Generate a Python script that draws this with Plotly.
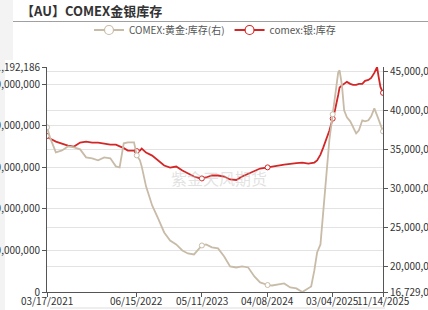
import plotly.graph_objects as go

dates = ["2021-03-17","2021-04-01","2021-05-01","2021-06-01","2021-07-01","2021-08-01","2021-09-01",
         "2021-10-01","2021-11-01","2021-12-01","2022-01-01","2022-02-01","2022-03-01","2022-03-20",
         "2022-04-10","2022-05-01","2022-06-01","2022-06-15","2022-07-01","2022-07-10","2022-08-01",
         "2022-09-01","2022-10-01","2022-11-01","2022-12-01","2023-01-01","2023-02-01","2023-03-01",
         "2023-04-01","2023-05-01","2023-05-11","2023-06-01","2023-07-01","2023-08-01","2023-09-01",
         "2023-10-01","2023-11-01","2023-12-01","2024-01-01","2024-02-01","2024-03-01","2024-04-01",
         "2024-04-08","2024-05-01","2024-06-01","2024-07-01","2024-08-01","2024-09-01","2024-10-01",
         "2024-11-01","2024-11-15","2024-12-01","2024-12-15","2025-01-01","2025-01-15","2025-02-01",
         "2025-02-15","2025-03-04","2025-03-15","2025-04-01","2025-04-08","2025-04-20","2025-05-01",
         "2025-05-15","2025-06-01","2025-06-15","2025-07-01","2025-07-15","2025-08-01","2025-08-15",
         "2025-09-01","2025-09-15","2025-10-01","2025-10-15","2025-10-22","2025-11-01","2025-11-14"]

# COMEX gold inventory (million oz, right axis)
gold_m = [37.82,36.54,34.62,34.87,35.38,35.26,35.00,33.97,33.85,33.59,33.97,33.85,32.82,32.69,
          35.77,35.90,35.90,34.23,33.59,32.82,30.26,27.82,26.15,24.36,23.33,22.82,22.05,21.67,
          21.54,22.31,22.69,22.82,22.44,22.31,21.28,20.00,19.87,20.00,19.87,18.72,17.95,17.69,
          17.62,17.56,17.69,17.82,17.31,17.18,16.729046,17.18,17.44,19.49,21.79,22.82,27.18,32.31,
          36.15,39.49,41.67,44.87,45.13,43.20,40.00,39.10,38.59,37.82,37.05,37.44,38.72,38.59,
          38.72,39.23,40.26,39.36,38.90,38.20,37.31]

# COMEX silver inventory (million oz, left axis)
silver_m = [375.2,369.0,361.7,356.9,352.1,349.7,359.3,361.7,359.3,359.3,356.9,354.5,354.5,351.0,
            346.0,340.1,340.1,338.9,340.1,344.9,335.3,328.1,316.2,304.2,299.4,301.8,292.2,285.0,
            277.8,273.1,273.1,275.4,280.2,280.2,277.8,270.7,269.5,277.8,285.0,292.2,297.0,299.4,
            299.8,301.8,304.2,306.6,309.0,310.2,311.4,309.0,310.2,311.4,316.6,330.5,347.3,368.9,
            388.0,417.0,436.0,474.0,492.0,497.0,500.6,505.4,500.6,498.2,498.2,500.6,500.6,507.8,
            510.2,515.0,527.0,541.192186,520.0,493.4,479.0]

tick_dates = ["2021-03-17","2022-06-15","2023-05-11","2024-04-08","2025-03-04","2025-11-14"]
tick_text = ["03/17/2021","06/15/2022","05/11/2023","04/08/2024","03/04/2025","11/14/2025"]

left_ticks = [0, 100000000, 200000000, 300000000, 400000000, 500000000, 541192186]
right_ticks = [16729046, 20000000, 25000000, 30000000, 35000000, 40000000, 45000000]

gold = [v * 1e6 for v in gold_m]
silver = [v * 1e6 for v in silver_m]

GOLD_C = "rgb(200,187,168)"
RED_C = "rgb(212,38,38)"
FONT = "Noto Sans CJK SC"

W, H = 428, 310
L, R, T, B = 47, 45, 67, 18
PW, PH = W - L - R, H - T - B

def px(x):
    return (x - L) / PW

def py(y):
    return (H - B - y) / PH

mark_idx = [dates.index(d) for d in tick_dates]

fig = go.Figure()
fig.add_trace(go.Scatter(x=dates, y=gold, mode="lines", yaxis="y2",
                         line=dict(color=GOLD_C, width=1.8), showlegend=False, hoverinfo="skip"))
fig.add_trace(go.Scatter(x=[dates[i] for i in mark_idx], y=[gold[i] for i in mark_idx], mode="markers",
                         yaxis="y2", marker=dict(symbol="circle", size=5, color="white",
                                                 line=dict(color=GOLD_C, width=1)),
                         showlegend=False, hoverinfo="skip"))
fig.add_trace(go.Scatter(x=dates, y=silver, mode="lines",
                         line=dict(color=RED_C, width=1.8), showlegend=False, hoverinfo="skip"))
fig.add_trace(go.Scatter(x=[dates[i] for i in mark_idx], y=[silver[i] for i in mark_idx], mode="markers",
                         marker=dict(symbol="circle", size=5, color="white",
                                     line=dict(color=RED_C, width=1)),
                         showlegend=False, hoverinfo="skip"))
fig.add_trace(go.Scatter(x=[None], y=[None], mode="lines+markers", name="COMEX:黄金:库存(右)",
                         line=dict(color=GOLD_C, width=1.8),
                         marker=dict(symbol="circle", size=9, color="white", line=dict(color=GOLD_C, width=1.2))))
fig.add_trace(go.Scatter(x=[None], y=[None], mode="lines+markers", name="comex:银:库存",
                         line=dict(color=RED_C, width=1.8),
                         marker=dict(symbol="circle", size=9, color="white", line=dict(color=RED_C, width=1.2))))

axis_col = "#555555"
grid_col = "#e3e3e3"
tick_font = dict(family=FONT, size=10, color="#333333")

annotations = [
    dict(text="<b>【AU】COMEX金银库存</b>", xref="paper", yref="paper", x=px(19), y=py(11),
         xanchor="left", yanchor="middle", showarrow=False,
         font=dict(family=FONT, size=13, color="#333333")),
    dict(text="紫金天风期货", xref="paper", yref="paper", x=px(219), y=py(178),
         xanchor="center", yanchor="middle", showarrow=False,
         font=dict(family=FONT, size=16, color="rgba(190,190,190,0.45)")),
]
for d, t in zip(tick_dates, tick_text):
    annotations.append(dict(text=t, xref="x", yref="paper", x=d, y=py(300.5),
                            xanchor="center", yanchor="middle", showarrow=False,
                            font=tick_font))

fig.update_layout(
    width=W, height=H,
    margin=dict(l=L, r=R, t=T, b=B, pad=0),
    paper_bgcolor="white", plot_bgcolor="white",
    font=dict(family=FONT, size=10, color="#333333"),
    showlegend=True,
    legend=dict(orientation="h", x=0.5, xanchor="center", y=py(30), yanchor="middle",
                font=dict(family=FONT, size=10, color="#555555"),
                bgcolor="rgba(0,0,0,0)", itemwidth=30, tracegroupgap=0),
    xaxis=dict(type="date", range=["2021-03-17", "2025-11-14"], tickvals=tick_dates,
               showticklabels=False,
               showgrid=False, showline=True, linecolor=axis_col, linewidth=1,
               ticks="outside", ticklen=4, tickcolor=axis_col,
               zeroline=False, automargin=False, fixedrange=True),
    yaxis=dict(range=[0, 541192186], tickvals=left_ticks,
               ticktext=[f"{v:,}" for v in left_ticks],
               showgrid=True, gridcolor=grid_col, gridwidth=1,
               showline=True, linecolor=axis_col, linewidth=1,
               ticks="outside", ticklen=4, tickcolor=axis_col, tickfont=tick_font,
               zeroline=False, automargin=False, fixedrange=True),
    yaxis2=dict(range=[16729046, 45550000], overlaying="y", side="right",
                tickvals=right_ticks, ticktext=[f"{v:,}" for v in right_ticks],
                showgrid=True, gridcolor=grid_col, gridwidth=1,
                showline=True, linecolor=axis_col, linewidth=1,
                ticks="outside", ticklen=4, tickcolor=axis_col, tickfont=tick_font,
                zeroline=False, automargin=False, fixedrange=True),
    shapes=[
        dict(type="rect", xref="paper", yref="paper", x0=px(0), x1=px(13), y0=py(0), y1=py(60),
             fillcolor="#f3f3f3", line=dict(width=0), layer="below"),
        dict(type="rect", xref="paper", yref="paper", x0=px(0), x1=px(5), y0=py(60), y1=py(310),
             fillcolor="#f3f3f3", line=dict(width=0), layer="below"),
        dict(type="line", xref="paper", yref="paper", x0=px(13), x1=px(428), y0=py(21.5), y1=py(21.5),
             line=dict(color="#a0a0a0", width=1)),
        dict(type="line", xref="paper", yref="paper", x0=px(50), x1=px(385), y0=py(308), y1=py(308),
             line=dict(color="#dddddd", width=1)),
    ],
    annotations=annotations,
)

fig.write_html("out.html", config={"displayModeBar": False})
